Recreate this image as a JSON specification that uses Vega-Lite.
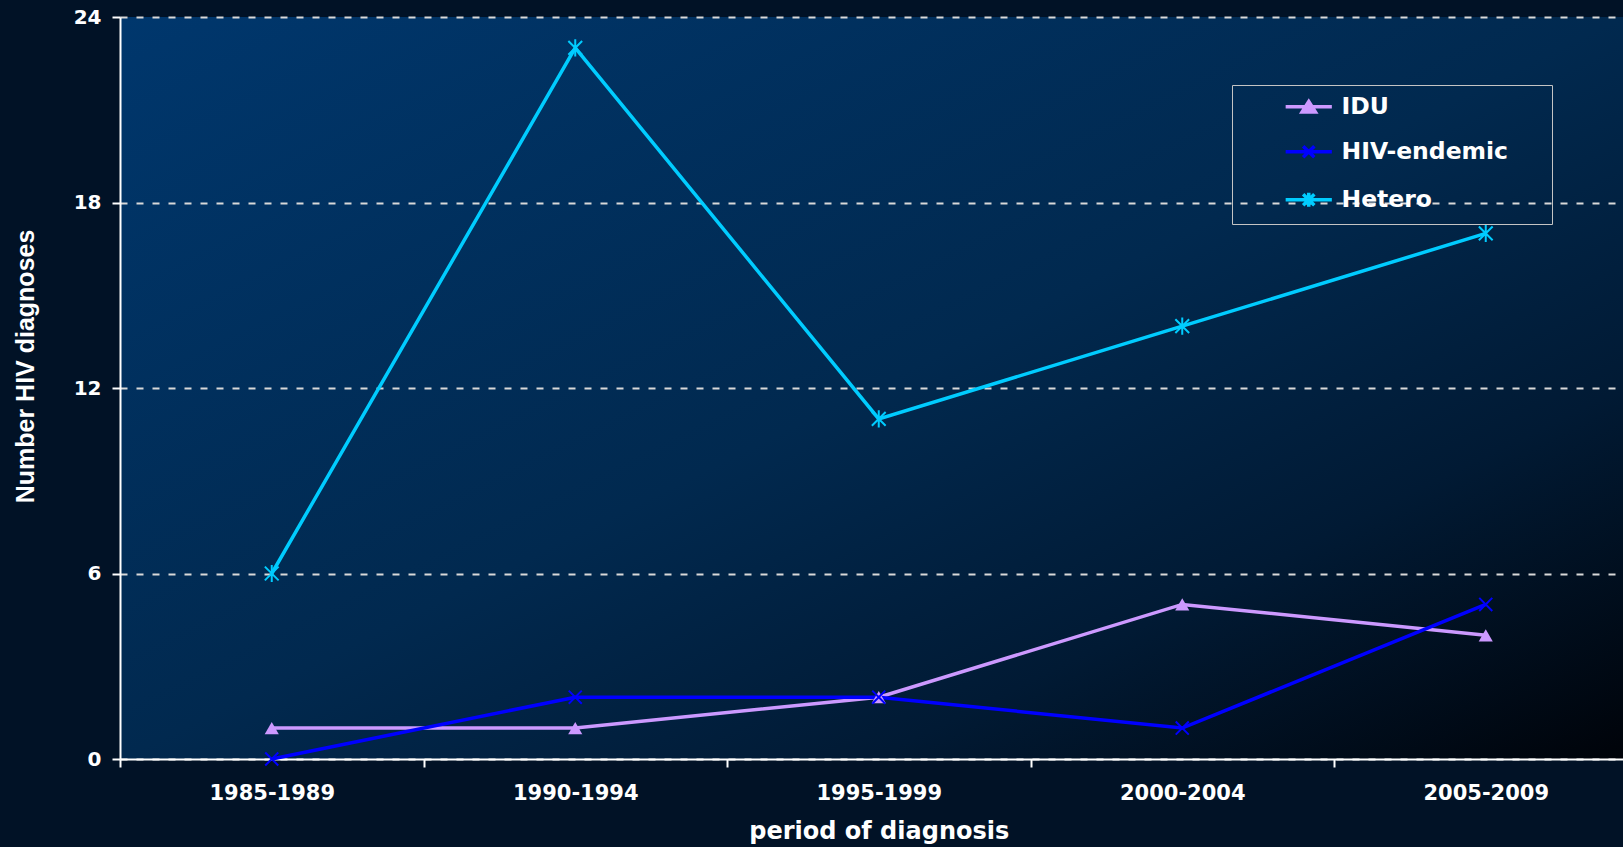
{
  "$schema": "https://vega.github.io/schema/vega-lite/v6.json",
  "width": 1503,
  "height": 742,
  "autosize": {"type": "none"},
  "padding": {"left": 120, "top": 17, "right": 0, "bottom": 88},
  "background": "#011226",
  "view": {
    "stroke": null,
    "fill": {
      "gradient": "linear", "x1": 0, "y1": 0, "x2": 1, "y2": 1,
      "stops": [
        {"offset": 0, "color": "#00376d"},
        {"offset": 0.5, "color": "#01294f"},
        {"offset": 0.75, "color": "#011a34"},
        {"offset": 1, "color": "#000309"}
      ]
    }
  },
  "config": {
    "font": "DejaVu Sans"
  },
  "data": {
    "values": [
      {"period": "1985-1989", "series": "IDU", "value": 1},
      {"period": "1990-1994", "series": "IDU", "value": 1},
      {"period": "1995-1999", "series": "IDU", "value": 2},
      {"period": "2000-2004", "series": "IDU", "value": 5},
      {"period": "2005-2009", "series": "IDU", "value": 4},
      {"period": "1985-1989", "series": "HIV-endemic", "value": 0},
      {"period": "1990-1994", "series": "HIV-endemic", "value": 2},
      {"period": "1995-1999", "series": "HIV-endemic", "value": 2},
      {"period": "2000-2004", "series": "HIV-endemic", "value": 1},
      {"period": "2005-2009", "series": "HIV-endemic", "value": 5},
      {"period": "1985-1989", "series": "Hetero", "value": 6},
      {"period": "1990-1994", "series": "Hetero", "value": 23},
      {"period": "1995-1999", "series": "Hetero", "value": 11},
      {"period": "2000-2004", "series": "Hetero", "value": 14},
      {"period": "2005-2009", "series": "Hetero", "value": 17}
    ]
  },
  "encoding": {
    "x": {
      "field": "period", "type": "nominal", "sort": null,
      "scale": {"range": [0, 1517.5], "paddingInner": 0, "paddingOuter": 0},
      "axis": {
        "title": "period of diagnosis",
        "labelAngle": 0,
        "tickBand": "extent",
        "tickSize": 8, "tickWidth": 2, "tickColor": "white",
        "domainColor": "white", "domainWidth": 2,
        "labelFont": "DejaVu Sans", "labelFontWeight": "bold", "labelFontSize": 21, "labelColor": "white",
        "labelPadding": 15,
        "titleFont": "DejaVu Sans", "titleFontWeight": "bold", "titleFontSize": 24, "titleColor": "white",
        "titlePadding": 16,
        "grid": false
      }
    },
    "y": {
      "field": "value", "type": "quantitative",
      "scale": {"domain": [0, 24], "nice": false},
      "axis": {
        "title": "Number HIV diagnoses",
        "values": [0, 6, 12, 18, 24],
        "tickSize": 8, "tickWidth": 2, "tickColor": "white",
        "domainColor": "white", "domainWidth": 2,
        "labelFont": "DejaVu Sans", "labelFontWeight": "bold", "labelFontSize": 20, "labelColor": "white",
        "labelPadding": 11,
        "grid": true, "gridColor": "#d9d9d9", "gridWidth": 2, "gridDash": [7, 9],
        "titleFont": "Liberation Sans", "titleFontWeight": "bold", "titleFontSize": 25, "titleColor": "white",
        "titleX": -95, "titleY": 349, "titleBaseline": "middle", "titleAngle": -90
      }
    }
  },
  "layer": [
    {
      "mark": {"type": "line", "strokeWidth": 3.5},
      "encoding": {
        "color": {
          "field": "series", "type": "nominal",
          "scale": {"domain": ["IDU", "HIV-endemic", "Hetero"], "range": ["#cc99ff", "#0000ff", "#00ccff"]},
          "legend": {
            "orient": "none", "legendX": 1112, "legendY": 68,
            "title": null,
            "strokeColor": "#c4c4c4",
            "padding": 10, "rowPadding": 20,
            "symbolSize": 196, "symbolStrokeWidth": 3.5,
            "symbolOffset": 55, "labelOffset": 21, "labelLimit": 400,
            "symbolType": {"expr": "datum.value === 'IDU' ? 'M-3.3,0L3.3,0M0,-0.75L0.95,0.75L-0.95,0.75ZM32.3,0' : datum.value === 'HIV-endemic' ? 'M-3.3,0L3.3,0M-0.8,-0.8L0.8,0.8M-0.8,0.8L0.8,-0.8M32.3,0' : 'M-3.3,0L3.3,0M-0.8,-0.8L0.8,0.8M-0.8,0.8L0.8,-0.8M0,-1L0,1M32.3,0'"},
            "symbolFillColor": {"expr": "datum.value === 'IDU' ? '#cc99ff' : 'transparent'"},
            "labelFont": "DejaVu Sans", "labelFontWeight": "bold", "labelFontSize": 23.5, "labelColor": "white"
          }
        }
      }
    },
    {
      "transform": [{"filter": "datum.series === 'IDU'"}],
      "mark": {"type": "point", "shape": "triangle-up", "filled": true, "color": "#cc99ff", "opacity": 1, "size": 200}
    },
    {
      "transform": [{"filter": "datum.series === 'HIV-endemic'"}],
      "mark": {"type": "point", "shape": "M-1,-1L1,1M-1,1L1,-1", "filled": false, "stroke": "#0000ff", "strokeWidth": 2, "opacity": 1, "size": 170}
    },
    {
      "transform": [{"filter": "datum.series === 'Hetero'"}],
      "mark": {"type": "point", "shape": "M-1,-1L1,1M-1,1L1,-1M0,-1.25L0,1.25", "filled": false, "stroke": "#00ccff", "strokeWidth": 2, "opacity": 1, "size": 190}
    }
  ]
}
